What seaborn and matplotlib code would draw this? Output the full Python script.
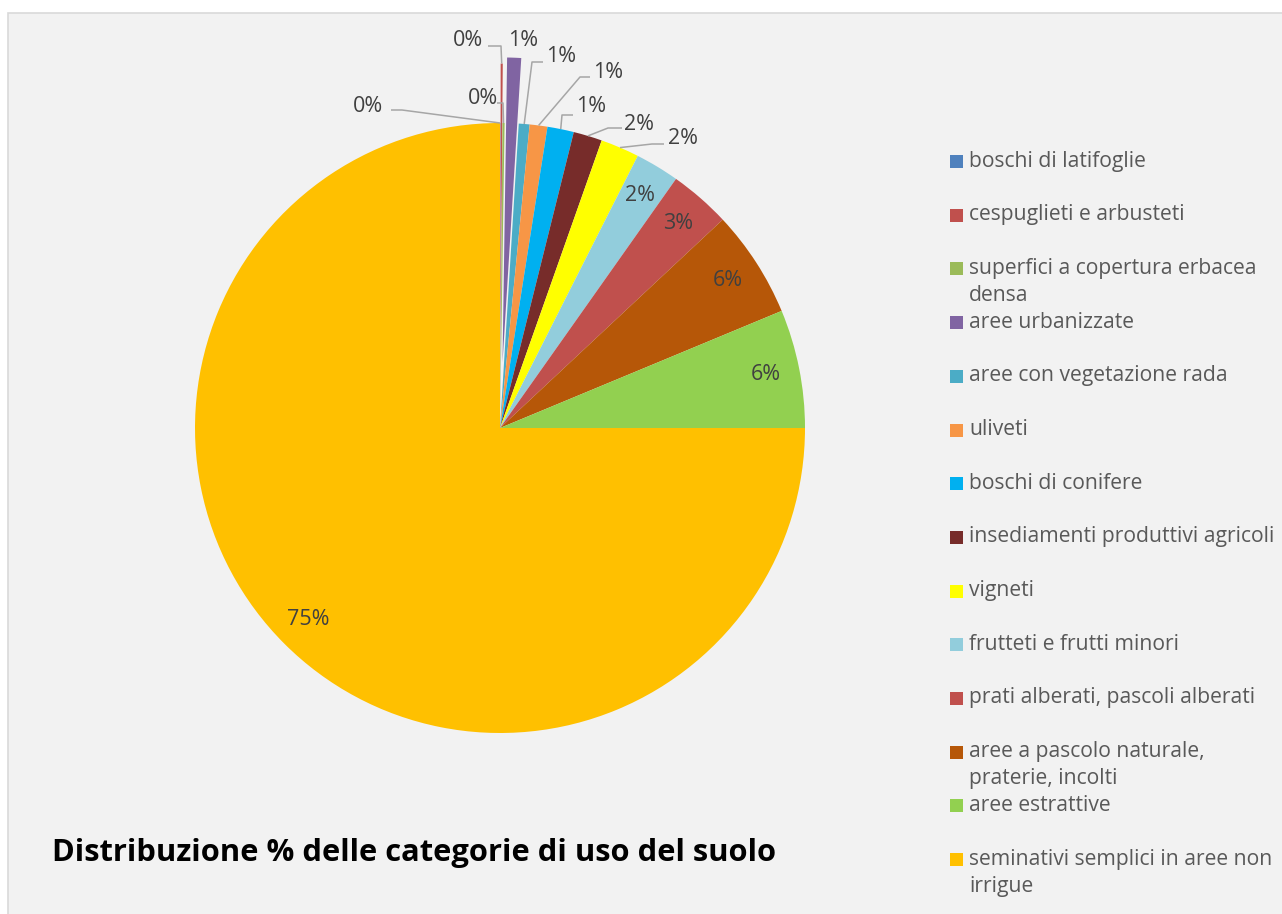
import numpy as np
import matplotlib
matplotlib.use("Agg")
import matplotlib.pyplot as plt
import seaborn as sns
from matplotlib.patches import Rectangle

# ---------------- data ----------------
categories = [
    "boschi di latifoglie",
    "cespuglieti e arbusteti",
    "superfici a copertura erbacea densa",
    "aree urbanizzate",
    "aree con vegetazione rada",
    "uliveti",
    "boschi di conifere",
    "insediamenti produttivi agricoli",
    "vigneti",
    "frutteti e frutti minori",
    "prati alberati, pascoli alberati",
    "aree a pascolo naturale, praterie, incolti",
    "aree estrattive",
    "seminativi semplici in aree non irrigue",
]
legend_labels = [
    "boschi di latifoglie",
    "cespuglieti e arbusteti",
    "superfici a copertura erbacea\ndensa",
    "aree urbanizzate",
    "aree con vegetazione rada",
    "uliveti",
    "boschi di conifere",
    "insediamenti produttivi agricoli",
    "vigneti",
    "frutteti e frutti minori",
    "prati alberati, pascoli alberati",
    "aree a pascolo naturale,\npraterie, incolti",
    "aree estrattive",
    "seminativi semplici in aree non\nirrigue",
]
values = [0.02, 0.11, 0.11, 0.74, 0.57, 0.94, 1.40, 1.52, 2.05, 2.33, 3.24, 5.70, 6.27, 75.0]
title = "Distribuzione % delle categorie di uso del suolo"

# ---------------- style ----------------
colors = ["#4F81BD", "#C0504D", "#9BBB59", "#8064A2", "#4BACC6", "#F79646",
          "#00B0F0", "#772C2A", "#FFFF00", "#92CDDC", "#C0504D", "#B65708",
          "#92D050", "#FFC000"]
explode_frac = [0, 0.195, 0, 0.215, 0, 0, 0, 0, 0, 0, 0, 0, 0, 0]

sns.set_theme(style="white")
plt.rcParams['font.family'] = ['Open Sans', 'DejaVu Sans']

W, H = 1282, 914
fig = plt.figure(figsize=(W / 100, H / 100), dpi=100)
fig.patch.set_facecolor("white")
ax = fig.add_axes([0, 0, 1, 1])

cx, cy, R = 500, H - 428, 305

wedges, _ = ax.pie(values, colors=colors, startangle=90, counterclock=False,
                   radius=R, center=(cx, cy), explode=[e * R for e in explode_frac],
                   wedgeprops=dict(linewidth=0))
ax.set_xlim(0, W)
ax.set_ylim(0, H)
ax.axis("off")

ax.add_patch(Rectangle((8, -10), W + 10, H - 13 + 10, facecolor="#F2F2F2",
                       edgecolor="#D9D9D9", linewidth=1.2, zorder=0))

total = sum(values)
pct_labels = [f"{round(v / total * 100):.0f}%" for v in values]

label_fs = 15.5
label_color = "#404040"
line_color = "#A6A6A6"

def wedge_point(w, frac):
    mid = np.deg2rad((w.theta1 + w.theta2) / 2)
    x0, y0 = w.center
    return x0 + frac * R * np.cos(mid), y0 + frac * R * np.sin(mid)

# outside label layout: index -> (text centre, elbow start, elbow end) in image px (y down)
outside = {
    0: ((368, 106), (391, 110), (402, 110)),
    1: ((468, 41), (488, 46), (501, 46)),
    2: ((483, 99), (497, 103), (503, 103)),
    3: ((523, 41), None, None),
    4: ((561, 57), (543, 62), (532, 62)),
    5: ((608, 72), (590, 77), (580, 77)),
    6: ((591, 107), (573, 115), (562, 115)),
    7: ((639, 124), (622, 128), (608, 128)),
    8: ((683, 138), (664, 144), (652, 144)),
}

for i, w in enumerate(wedges):
    if i in outside:
        (tx, ty), p1, p2 = outside[i]
        ax.text(tx, H - ty, pct_labels[i], ha="center", va="center",
                fontsize=label_fs, color=label_color, zorder=5)
        if p1 is not None:
            ax_, ay_ = wedge_point(w, 1.0)
            ax.plot([p1[0], p2[0], ax_], [H - p1[1], H - p2[1], ay_],
                    color=line_color, linewidth=1.1, zorder=4, solid_capstyle="butt")
    else:
        x, y = wedge_point(w, 0.89)
        ax.text(x, y, pct_labels[i], ha="center", va="center",
                fontsize=label_fs, color=label_color, zorder=5)

# legend (manual, Excel-like uniform spacing)
leg_y0, leg_dy, line_h = 161, 53.7, 27
for i, lab in enumerate(legend_labels):
    yc = leg_y0 + i * leg_dy
    ax.add_patch(Rectangle((950, H - yc - 7), 13, 13, facecolor=colors[i],
                           edgecolor="none", zorder=5))
    for k, part in enumerate(lab.split("\n")):
        ax.text(969, H - (yc + k * line_h), part, ha="left", va="center",
                fontsize=15.2, color="#595959", zorder=5)

ax.text(52, H - 853, title, ha="left", va="center", fontsize=22.2,
        fontweight="bold", color="black", zorder=5)

fig.savefig("out.png", dpi=100, facecolor=fig.get_facecolor())
